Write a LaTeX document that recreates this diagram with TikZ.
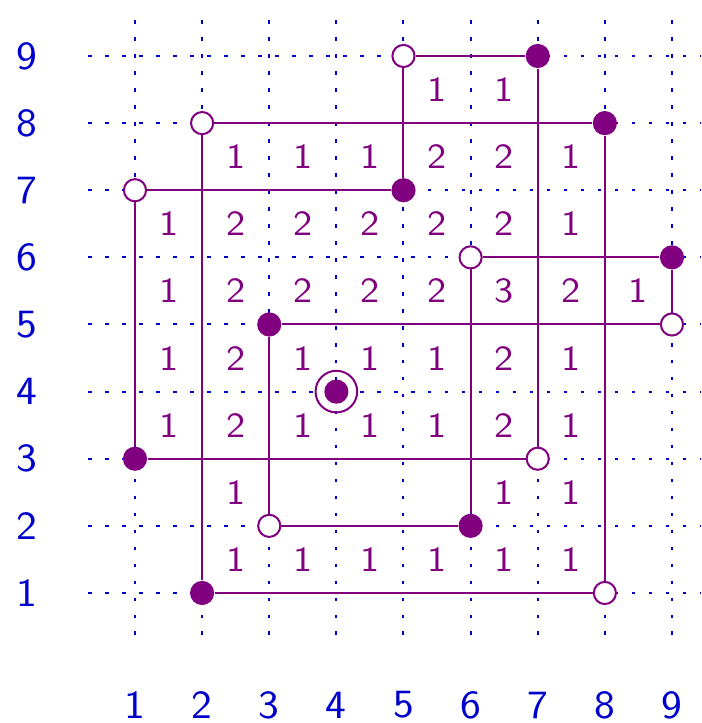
\documentclass[tikz,border=0pt]{standalone}
\usepackage{tikz}
\definecolor{gridblue}{RGB}{0,0,204}
\definecolor{rectpurple}{RGB}{128,0,128}

\begin{document}
\begin{tikzpicture}[
gridline/.style={gridblue,line width=0.85pt,dash pattern=on 1.6pt off 5.6pt},
edge/.style={rectpurple,line width=0.85pt},
opendot/.style={circle,draw=rectpurple,fill=white,line width=0.85pt,minimum size=0.33cm,inner sep=0pt},
fulldot/.style={circle,fill=rectpurple,minimum size=0.36cm,inner sep=0pt},
ringdot/.style={circle,draw=rectpurple,line width=0.85pt,minimum size=0.62cm,inner sep=0pt},
axislabel/.style={gridblue,font=\fontsize{17}{17}\selectfont\sffamily,xscale=1.1},
cellnum/.style={rectpurple,font=\fontsize{15}{15}\selectfont\sffamily,xscale=1.1}
]
\useasboundingbox (-1.011,-0.937) rectangle (9.447,9.834);
\foreach \i in {1,...,9} {
\draw[gridline] (0.3,\i) -- (9.42,\i);
\draw[gridline] (\i,0.37) -- (\i,9.69);
\node[axislabel] (ly\i) at (-0.61,\i) {\i};
\node[axislabel] (lx\i) at (\i,-0.67) {\i};
}
\foreach \x/\y/\n in {5/8/1,6/8/1,
2/7/1,3/7/1,4/7/1,5/7/2,6/7/2,7/7/1,
1/6/1,2/6/2,3/6/2,4/6/2,5/6/2,6/6/2,7/6/1,
1/5/1,2/5/2,3/5/2,4/5/2,5/5/2,6/5/3,7/5/2,8/5/1,
1/4/1,2/4/2,3/4/1,4/4/1,5/4/1,6/4/2,7/4/1,
1/3/1,2/3/2,3/3/1,4/3/1,5/3/1,6/3/2,7/3/1,
2/2/1,6/2/1,7/2/1,
2/1/1,3/1/1,4/1/1,5/1/1,6/1/1,7/1/1}
\node[cellnum] (n\x\y) at (\x+0.5,\y+0.5) {\n};
\foreach \x/\y in {5/9,2/8,1/7,6/6,9/5,7/3,3/2,8/1}
\node[opendot] (p\x\y) at (\x,\y) {};
\foreach \x/\y in {7/9,8/8,5/7,9/6,3/5,1/3,6/2,2/1}
\node[fulldot] (p\x\y) at (\x,\y) {};
\foreach \a/\b in {59/79,59/57,79/73,28/88,28/21,88/81,17/57,17/13,
13/73,66/96,96/95,35/95,66/62,35/32,32/62,21/81}
\draw[edge] (p\a) -- (p\b);
\node[fulldot] (centre) at (4,4) {};
\node[ringdot] (ring) at (4,4) {};
\end{tikzpicture}
\end{document}
